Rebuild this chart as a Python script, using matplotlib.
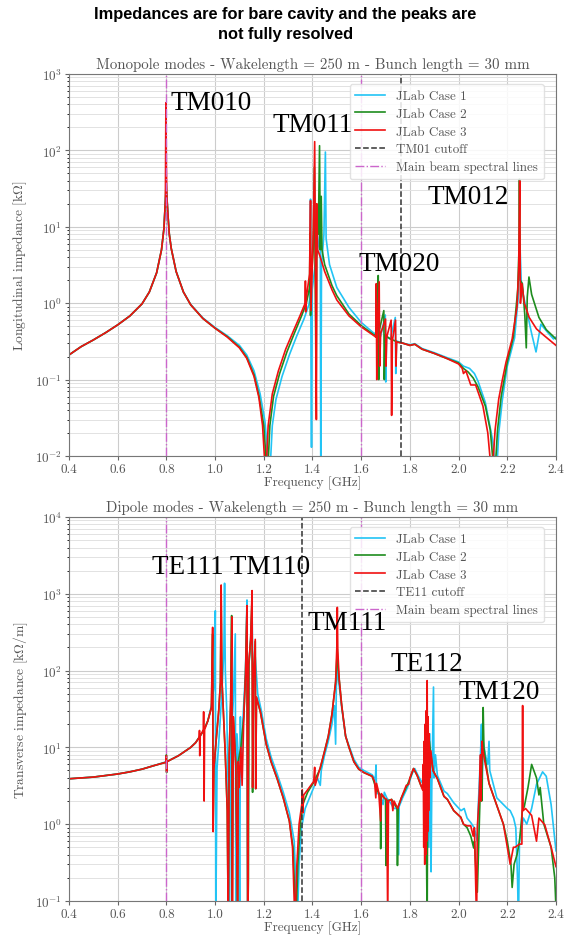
import matplotlib
matplotlib.use("Agg")
import matplotlib.pyplot as plt
from matplotlib.ticker import LogLocator, NullFormatter

plt.rcParams['font.family'] = ['cmr10', 'DejaVu Serif']
plt.rcParams['mathtext.fontset'] = 'cm'
plt.rcParams['axes.unicode_minus'] = False
plt.rcParams['axes.formatter.use_mathtext'] = True

# ---------------- data ----------------
SUPTITLE = "Impedances are for bare cavity and the peaks are\nnot fully resolved"
TITLE_TOP = "Monopole modes - Wakelength = 250 m - Bunch length = 30 mm"
TITLE_BOT = "Dipole modes - Wakelength = 250 m - Bunch length = 30 mm"
CASE_LABELS = ["JLab Case 1", "JLab Case 2", "JLab Case 3"]
XTICKS = [0.4, 0.6, 0.8, 1.0, 1.2, 1.4, 1.6, 1.8, 2.0, 2.2, 2.4]
BEAM_LINES = [0.8, 1.6]
TM01_CUTOFF = 1.763
TE11_CUTOFF = 1.356

MONO_LABELS = [("TM010", 0.816, 420), ("TM011", 1.235, 215),
               ("TM012", 1.873, 25), ("TM020", 1.589, 3.3)]
DIP_LABELS = [("TE111 TM110", 0.742, 2250), ("TM111", 1.379, 420),
              ("TE112", 1.721, 125), ("TM120", 2.001, 54)]

# Monopole (longitudinal, kOhm)
MONO_CASE1 = [(0.40,0.21),(0.45,0.27),(0.50,0.33),(0.55,0.41),(0.60,0.52),(0.65,0.68),(0.70,0.98),(0.73,1.4),(0.76,2.5),(0.78,5.0),(0.79,9.5),(0.796,22),(0.799,30),(0.802,25),(0.806,15),(0.812,8),(0.82,5.2),(0.84,2.6),(0.87,1.4),(0.90,0.96),(0.95,0.64),(1.00,0.48),(1.05,0.375),(1.10,0.28),(1.13,0.21),(1.16,0.13),(1.185,0.065),(1.205,0.028),(1.224,0.005),(1.235,0.025),(1.25,0.055),(1.275,0.11),(1.305,0.21),(1.335,0.37),(1.365,0.62),(1.385,0.95),(1.39,1.2),(1.392,23),(1.394,0.14),(1.396,0.013),(1.399,1.5),(1.41,3),(1.425,6),(1.432,10),(1.434,0.005),(1.437,3),(1.447,8),(1.453,95),(1.456,7),(1.47,3.2),(1.50,1.6),(1.55,0.88),(1.60,0.56),(1.65,0.41),(1.68,0.37),(1.699,0.7),(1.701,0.093),(1.704,0.36),(1.72,0.34),(1.740,0.65),(1.742,0.12),(1.745,0.32),(1.77,0.3),(1.80,0.285),(1.82,0.295),(1.85,0.255),(1.90,0.225),(1.95,0.195),(2.00,0.17),(2.02,0.15),(2.045,0.14),(2.065,0.12),(2.08,0.095),(2.11,0.05),(2.14,0.016),(2.155,0.005),(2.165,0.02),(2.18,0.055),(2.20,0.15),(2.23,0.35),(2.245,1.2),(2.252,6),(2.257,2),(2.265,1.3),(2.28,0.8),(2.30,0.4),(2.318,0.23),(2.338,0.53),(2.37,0.4),(2.39,0.34),(2.40,0.36)]
MONO_CASE2 = [(0.40,0.21),(0.45,0.27),(0.50,0.33),(0.55,0.41),(0.60,0.52),(0.65,0.68),(0.70,0.98),(0.73,1.4),(0.76,2.5),(0.78,5.0),(0.79,9.5),(0.796,22),(0.799,40),(0.802,25),(0.806,15),(0.812,8),(0.82,5.2),(0.84,2.6),(0.87,1.4),(0.90,0.95),(0.95,0.63),(1.00,0.47),(1.05,0.365),(1.10,0.265),(1.13,0.195),(1.16,0.115),(1.18,0.062),(1.20,0.025),(1.215,0.005),(1.225,0.025),(1.24,0.06),(1.265,0.12),(1.295,0.23),(1.325,0.4),(1.355,0.68),(1.375,1.0),(1.388,1.6),(1.390,8.2),(1.392,0.69),(1.395,2),(1.403,5),(1.408,60),(1.411,3),(1.415,0.065),(1.418,12),(1.424,8),(1.429,115),(1.432,5),(1.436,25),(1.439,5),(1.45,3.2),(1.48,1.7),(1.50,1.25),(1.55,0.72),(1.60,0.51),(1.65,0.39),(1.668,0.37),(1.670,2.3),(1.672,0.1),(1.675,0.45),(1.693,0.8),(1.695,0.1),(1.698,0.38),(1.72,0.34),(1.75,0.31),(1.77,0.3),(1.80,0.28),(1.82,0.29),(1.85,0.25),(1.90,0.22),(1.95,0.19),(2.00,0.165),(2.02,0.14),(2.04,0.125),(2.06,0.105),(2.08,0.08),(2.11,0.045),(2.13,0.022),(2.148,0.005),(2.16,0.022),(2.175,0.06),(2.20,0.17),(2.225,0.36),(2.243,1.5),(2.248,5),(2.250,42),(2.253,2),(2.262,1.8),(2.272,0.7),(2.278,0.26),(2.282,1.2),(2.289,2.2),(2.30,1.3),(2.33,0.65),(2.36,0.45),(2.40,0.34)]
MONO_CASE3 = [(0.40,0.21),(0.45,0.27),(0.50,0.33),(0.55,0.41),(0.60,0.52),(0.65,0.68),(0.70,0.98),(0.73,1.4),(0.76,2.5),(0.78,5.0),(0.79,9.5),(0.796,22),(0.798,420),(0.800,60),(0.802,25),(0.806,15),(0.812,8),(0.82,5.2),(0.84,2.6),(0.87,1.4),(0.90,0.95),(0.95,0.63),(1.00,0.47),(1.05,0.36),(1.10,0.26),(1.13,0.19),(1.16,0.11),(1.18,0.058),(1.195,0.025),(1.208,0.005),(1.218,0.025),(1.235,0.065),(1.26,0.13),(1.29,0.25),(1.32,0.42),(1.35,0.7),(1.370,1.0),(1.371,1.95),(1.372,0.77),(1.375,1.2),(1.388,2.4),(1.392,22),(1.394,0.8),(1.40,4),(1.404,10),(1.409,130),(1.412,4),(1.416,0.03),(1.418,20),(1.421,5),(1.43,4.2),(1.45,2.6),(1.48,1.5),(1.50,1.1),(1.55,0.68),(1.60,0.49),(1.65,0.38),(1.660,0.36),(1.662,1.8),(1.664,0.1),(1.667,0.42),(1.674,1.9),(1.676,0.15),(1.68,0.4),(1.700,0.62),(1.702,0.15),(1.705,0.36),(1.723,0.6),(1.725,0.034),(1.728,0.32),(1.741,0.6),(1.743,0.15),(1.746,0.31),(1.77,0.3),(1.80,0.28),(1.82,0.29),(1.85,0.25),(1.90,0.22),(1.95,0.19),(2.00,0.16),(2.015,0.14),(2.02,0.12),(2.03,0.13),(2.05,0.085),(2.07,0.085),(2.10,0.045),(2.12,0.02),(2.137,0.005),(2.15,0.022),(2.165,0.056),(2.18,0.1),(2.195,0.17),(2.22,0.34),(2.24,0.9),(2.247,3),(2.251,40),(2.254,1.0),(2.26,1.8),(2.27,1.0),(2.29,0.65),(2.32,0.46),(2.35,0.38),(2.40,0.28)]

# Dipole (transverse, kOhm/m)
DIP_CASE1 = [(0.40,3.9),(0.45,4.0),(0.50,4.1),(0.55,4.3),(0.60,4.5),(0.65,4.8),(0.70,5.2),(0.75,5.8),(0.80,6.5),(0.85,7.8),(0.90,10),(0.92,11.5),(0.95,16),(0.97,22),(0.985,35),(0.995,60),(1.001,600),(1.003,0.05),(1.008,5.3),(1.02,20),(1.03,70),(1.036,175),(1.039,1370),(1.042,100),(1.048,30),(1.055,1.5),(1.059,0.05),(1.064,10),(1.075,40),(1.083,300),(1.085,0.05),(1.09,15),(1.097,6),(1.101,0.05),(1.103,4),(1.104,25),(1.106,4),(1.115,25),(1.125,100),(1.131,830),(1.134,0.05),(1.139,120),(1.146,250),(1.152,600),(1.155,80),(1.165,150),(1.175,50),(1.19,30),(1.21,13),(1.23,7.5),(1.255,4.5),(1.28,2.6),(1.305,1.4),(1.325,0.6),(1.338,0.05),(1.345,0.3),(1.355,0.9),(1.37,1.6),(1.39,2.3),(1.405,3.0),(1.42,4.0),(1.432,3.2),(1.436,5),(1.45,8),(1.465,12),(1.48,20),(1.49,35),(1.495,11),(1.498,60),(1.502,110),(1.506,80),(1.512,55),(1.52,33),(1.536,14),(1.55,10.5),(1.57,7),(1.59,5.5),(1.611,5.0),(1.645,4.4),(1.658,3.8),(1.661,5.9),(1.663,2.5),(1.675,2.5),(1.69,1.8),(1.695,2.6),(1.705,2.2),(1.72,1.9),(1.735,1.6),(1.75,1.6),(1.753,0.4),(1.756,1.7),(1.77,2.2),(1.79,3.0),(1.81,4.6),(1.82,5.3),(1.835,4.2),(1.85,3.5),(1.86,4),(1.865,1.5),(1.872,8),(1.878,0.5),(1.882,15),(1.887,0.24),(1.890,3),(1.897,61),(1.899,4),(1.905,8),(1.913,4.3),(1.94,2.7),(1.954,2.5),(1.98,1.9),(2.01,1.5),(2.023,1.6),(2.035,1.2),(2.05,1.05),(2.064,0.9),(2.077,0.6),(2.08,1.5),(2.09,8),(2.094,20),(2.097,3),(2.101,12),(2.11,8),(2.12,6),(2.125,12),(2.128,5),(2.157,2.2),(2.184,1.8),(2.20,1.6),(2.212,1.5),(2.226,1.2),(2.235,0.9),(2.242,0.2),(2.246,0.05),(2.25,0.6),(2.266,1.2),(2.28,1.0),(2.30,1.6),(2.32,3.3),(2.345,4.8),(2.36,4.2),(2.38,1.8),(2.40,0.45)]
DIP_CASE2 = [(0.40,3.9),(0.45,4.0),(0.50,4.1),(0.55,4.3),(0.60,4.5),(0.65,4.8),(0.70,5.2),(0.75,5.8),(0.799,6.4),(0.800,8.0),(0.801,4.7),(0.802,6.5),(0.85,7.8),(0.90,10),(0.92,11.5),(0.95,16),(0.97,22),(0.985,33),(0.990,300),(0.992,1),(0.995,5.3),(1.005,13),(1.015,30),(1.022,70),(1.025,900),(1.028,78),(1.034,30),(1.042,8),(1.050,1.5),(1.054,0.05),(1.058,8),(1.064,40),(1.068,520),(1.070,0.05),(1.075,25),(1.085,6),(1.093,0.05),(1.095,6.5),(1.106,10),(1.118,25),(1.125,90),(1.131,650),(1.134,0.05),(1.137,0.2),(1.139,120),(1.146,250),(1.152,900),(1.154,2.6),(1.158,80),(1.165,240),(1.167,2.9),(1.17,45),(1.186,29),(1.21,11),(1.23,6.5),(1.255,3.9),(1.28,2.2),(1.305,1.1),(1.32,0.5),(1.332,0.05),(1.34,0.3),(1.35,1.0),(1.36,1.8),(1.38,2.6),(1.405,3.5),(1.432,5.3),(1.45,9),(1.465,14),(1.48,27),(1.495,70),(1.502,190),(1.506,100),(1.512,65),(1.52,35),(1.536,14),(1.55,10),(1.57,6.5),(1.59,5.2),(1.611,4.7),(1.645,4.2),(1.66,3.0),(1.67,2.6),(1.678,2.4),(1.680,0.48),(1.683,2.4),(1.695,2.2),(1.700,2.1),(1.702,0.29),(1.705,2.0),(1.725,2.1),(1.747,1.6),(1.749,0.29),(1.752,1.7),(1.765,2.2),(1.785,3.0),(1.80,3.9),(1.815,5.3),(1.83,4.3),(1.845,3.2),(1.855,2.8),(1.860,8),(1.862,1),(1.866,18),(1.868,0.5),(1.871,0.05),(1.874,25),(1.877,3),(1.88,12),(1.886,8),(1.895,5),(1.913,3.9),(1.94,2.3),(1.954,2.1),(1.98,1.5),(2.009,1.23),(2.02,1.0),(2.035,0.9),(2.05,0.7),(2.062,0.49),(2.065,0.6),(2.07,0.3),(2.077,0.13),(2.085,1),(2.092,6),(2.095,2),(2.101,33),(2.104,10),(2.11,7),(2.125,3.4),(2.157,1.75),(2.184,1.0),(2.20,0.6),(2.215,0.3),(2.22,0.15),(2.228,0.3),(2.24,0.4),(2.25,0.6),(2.262,1.5),(2.27,1.7),(2.285,3),(2.30,6),(2.32,4),(2.33,2.4),(2.335,3.0),(2.35,1.0),(2.38,0.5),(2.395,0.2),(2.40,0.08)]
DIP_CASE3 = [(0.40,3.9),(0.45,4.0),(0.50,4.1),(0.55,4.3),(0.60,4.5),(0.65,4.8),(0.70,5.2),(0.75,5.8),(0.799,6.4),(0.800,7.8),(0.801,4.8),(0.802,6.5),(0.85,7.8),(0.90,10),(0.92,11.5),(0.935,13.5),(0.936,16.6),(0.937,7.8),(0.939,14),(0.952,17),(0.953,29),(0.955,2.0),(0.957,17),(0.97,22),(0.985,33),(0.990,365),(0.992,0.8),(0.995,5.3),(1.005,13),(1.015,30),(1.022,70),(1.025,1300),(1.028,78),(1.034,30),(1.042,8),(1.050,1.5),(1.054,0.05),(1.058,8),(1.064,40),(1.069,500),(1.071,0.05),(1.075,25),(1.085,6),(1.093,0.05),(1.095,6.5),(1.099,3),(1.106,10),(1.111,3.2),(1.118,25),(1.125,90),(1.131,700),(1.134,0.05),(1.138,120),(1.146,250),(1.152,1100),(1.154,3),(1.158,80),(1.165,255),(1.167,2.9),(1.17,45),(1.186,29),(1.21,11),(1.23,6.5),(1.255,3.9),(1.28,2.2),(1.305,1.1),(1.318,0.5),(1.328,0.05),(1.336,0.3),(1.345,1.0),(1.356,1.8),(1.358,2.8),(1.360,1.4),(1.364,2.4),(1.38,2.8),(1.405,3.6),(1.409,5.5),(1.411,3.2),(1.432,5.5),(1.45,9),(1.465,14),(1.48,27),(1.495,71),(1.500,200),(1.502,665),(1.504,180),(1.510,75),(1.52,35),(1.536,14),(1.55,10),(1.57,6.5),(1.59,5.2),(1.611,4.7),(1.645,4.2),(1.655,3.6),(1.660,2.2),(1.663,3.4),(1.672,2.6),(1.680,1.1),(1.683,2.5),(1.695,2.2),(1.705,2.1),(1.709,0.05),(1.712,2.0),(1.725,2.1),(1.73,1.5),(1.735,2.0),(1.75,1.6),(1.765,2.2),(1.785,3.2),(1.795,3.3),(1.80,4.0),(1.815,5.3),(1.83,4.3),(1.845,3.2),(1.852,2.8),(1.855,6),(1.857,0.5),(1.859,12),(1.861,0.3),(1.863,20),(1.865,0.4),(1.867,30),(1.869,0.6),(1.871,74),(1.873,0.8),(1.875,25),(1.877,1.5),(1.879,15),(1.882,4),(1.886,9),(1.895,5),(1.913,3.9),(1.94,2.3),(1.954,2.1),(1.98,1.5),(2.009,1.23),(2.02,1.0),(2.035,0.95),(2.05,0.95),(2.06,0.7),(2.065,0.9),(2.072,0.1),(2.074,0.05),(2.077,0.9),(2.085,2.5),(2.09,8),(2.092,2),(2.096,12),(2.10,9),(2.11,6),(2.125,3.4),(2.157,1.75),(2.184,1.0),(2.212,0.3),(2.225,0.5),(2.232,0.5),(2.25,0.55),(2.26,0.55),(2.263,35),(2.265,1.5),(2.275,1.6),(2.30,1.3),(2.32,0.6),(2.33,1.2),(2.354,0.98),(2.38,0.5),(2.40,0.28)]

COLORS = ["#22C4F5", "#1E8C1E", "#F01010"]
TXT = "#555555"

fig = plt.figure(figsize=(5.71, 9.37), dpi=100)
fig.text(0.5, 0.992, SUPTITLE, ha="center", va="top", fontsize=11.8,
         fontweight="bold", linespacing=1.35,
         family=["Liberation Sans Narrow", "Liberation Sans", "DejaVu Sans"])

ax1 = fig.add_axes([0.1208, 0.5123, 0.8529, 0.4077])
ax2 = fig.add_axes([0.1208, 0.0374, 0.8529, 0.4098])


def style(ax, ylim, title, ylabel):
    ax.set_yscale("log")
    ax.set_xlim(0.4, 2.4)
    ax.set_ylim(*ylim)
    ax.set_xticks(XTICKS)
    ax.set_xticklabels([f"{t:.1f}" for t in XTICKS])
    ax.yaxis.set_major_locator(LogLocator(base=10, numticks=12))
    ax.yaxis.set_minor_locator(LogLocator(base=10, subs=range(2, 10), numticks=12))
    ax.yaxis.set_minor_formatter(NullFormatter())
    ax.grid(True, which="major", color="#cccccc", lw=0.8)
    ax.grid(True, which="minor", axis="y", color="#e2e2e2", lw=0.7)
    ax.set_axisbelow(True)
    ax.set_title(title, fontsize=10.8, color=TXT, pad=4)
    ax.set_ylabel(ylabel, fontsize=9.7, color=TXT, labelpad=4)
    ax.set_xlabel("Frequency [GHz]", fontsize=9.5, color=TXT, labelpad=0)
    ax.tick_params(labelsize=9.5, labelcolor=TXT, colors="#666666", length=3, pad=2)
    ax.tick_params(which="minor", length=1.5)
    for s in ax.spines.values():
        s.set_color("#777777")


def draw(ax, cases, cutoff, cutoff_label, labels):
    handles = []
    for data, col, lab in zip(cases, COLORS, CASE_LABELS):
        f = [p[0] for p in data]
        z = [p[1] for p in data]
        h, = ax.plot(f, z, color=col, lw=1.2, label=lab)
        handles.append(h)
    hc = ax.axvline(cutoff, color="#333333", ls="--", lw=1.1, label=cutoff_label)
    hm = None
    for i, b in enumerate(BEAM_LINES):
        l = ax.axvline(b, color="#CC66CC", ls="-.", lw=1.0,
                       label="Main beam spectral lines" if i == 0 else None)
        if i == 0:
            hm = l
    handles += [hc, hm]
    leg = ax.legend(handles=handles, loc="upper right", fontsize=9.4, framealpha=0.85,
                    edgecolor="#dddddd", handlelength=2.3, borderpad=0.45,
                    labelspacing=0.42, bbox_to_anchor=(0.988, 0.99),
                    labelcolor=TXT)
    leg.set_zorder(5)
    for text, x, y in labels:
        ax.text(x, y, text, fontsize=19.5, family=["Liberation Serif"],
                va="center", ha="left", color="black", zorder=10)


style(ax1, (1e-2, 1e3), TITLE_TOP, r"Longitudinal impedance [k$\Omega$]")
draw(ax1, [MONO_CASE1, MONO_CASE2, MONO_CASE3], TM01_CUTOFF, "TM01 cutoff",
     MONO_LABELS)

style(ax2, (1e-1, 1e4), TITLE_BOT, r"Transverse impedance [k$\Omega$/m]")
draw(ax2, [DIP_CASE1, DIP_CASE2, DIP_CASE3], TE11_CUTOFF, "TE11 cutoff",
     DIP_LABELS)

fig.savefig("out.png", dpi=100)
